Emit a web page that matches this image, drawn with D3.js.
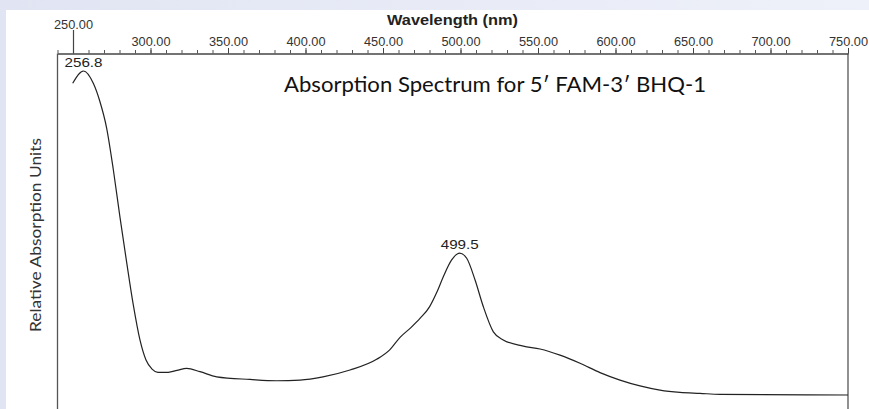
<!DOCTYPE html>
<html>
<head>
<meta charset="utf-8">
<script src="https://cdn.jsdelivr.net/npm/d3@7/dist/d3.min.js"></script>
<style>
  html, body { margin: 0; padding: 0; background: #fff; }
  svg { display: block; }
</style>
</head>
<body>
<svg id="chart" width="869" height="409"></svg>
<script>
// ---- data ----
const wavelength = [249.8, 256.8, 263.1, 267.4, 271.7, 276.0, 280.3, 284.6, 288.9, 293.2, 297.1, 301.0, 304.8, 311.5, 317.1, 323.4, 331.9, 342.7, 364.2, 381.4, 396.5, 411.3, 428.7, 445.9, 454.5, 461.0, 468.0, 474.0, 480.0, 485.0, 488.9, 494.3, 499.5, 504.0, 509.4, 514.7, 521.2, 527.6, 540.5, 551.3, 564.2, 577.1, 590.0, 602.9, 615.8, 628.7, 641.6, 654.5, 667.4, 750.0];
const absorbance = [0.962, 1.000, 0.962, 0.905, 0.824, 0.696, 0.549, 0.410, 0.278, 0.170, 0.108, 0.080, 0.070, 0.070, 0.076, 0.082, 0.072, 0.056, 0.048, 0.044, 0.046, 0.056, 0.077, 0.110, 0.140, 0.178, 0.208, 0.237, 0.272, 0.320, 0.365, 0.417, 0.438, 0.422, 0.355, 0.273, 0.195, 0.170, 0.151, 0.142, 0.123, 0.098, 0.069, 0.046, 0.028, 0.015, 0.008, 0.005, 0.002, 0.000];
const majorTicks = [300, 350, 400, 450, 500, 550, 600, 650, 700, 750];
const firstTick = [250];
const minorTicks = d3.range(240, 751, 10);
const peakLabels = [256.8, 499.5];
const peakValues = [1.000, 0.438];

const titleText = "Absorption Spectrum for 5\u2032 FAM-3\u2032 BHQ-1";
const xTitle = "Wavelength (nm)";
const yTitle = "Relative Absorption Units";

// ---- layout ----
const svg = d3.select("#chart");
const defs = svg.append("defs");
const grad = defs.append("linearGradient").attr("id", "bg").attr("x1", 0).attr("x2", 1).attr("y1", 0).attr("y2", 0);
grad.append("stop").attr("offset", "0%").attr("stop-color", "#e1e5f3");
grad.append("stop").attr("offset", "100%").attr("stop-color", "#eef1f9");
svg.append("rect").attr("width", 869).attr("height", 409).attr("fill", "url(#bg)");
svg.append("rect").attr("x", 6).attr("y", 10).attr("width", 863).attr("height", 399).attr("fill", "#ffffff");

const axisY = 53.5;
const x = d3.scaleLinear().domain([240, 750]).range([57.5, 848]);
const y = d3.scaleLinear().domain([0, 1]).range([395, 71]);

// frame sides
svg.append("line").attr("x1", x(240)).attr("x2", x(240)).attr("y1", axisY).attr("y2", 409)
  .attr("stroke", "#555").attr("stroke-width", 1.3);
svg.append("line").attr("x1", x(750)).attr("x2", x(750)).attr("y1", axisY).attr("y2", 409)
  .attr("stroke", "#555").attr("stroke-width", 1.3);

// minor ticks
const gMinor = svg.append("g").attr("transform", `translate(0,${axisY})`)
  .call(d3.axisTop(x).tickValues(minorTicks).tickSize(3.5).tickSizeOuter(0).tickFormat(""));
gMinor.select(".domain").attr("stroke", "#444").attr("stroke-width", 1.3);
gMinor.selectAll(".tick line").attr("stroke", "#555");

const fmt = d3.format(".2f");
// major ticks
const gMajor = svg.append("g").attr("transform", `translate(0,${axisY})`)
  .call(d3.axisTop(x).tickValues(majorTicks).tickSize(5.5).tickPadding(1.8).tickFormat(fmt));
gMajor.select(".domain").remove();
gMajor.selectAll(".tick line").attr("stroke", "#444");
gMajor.selectAll(".tick text")
  .attr("font-family", "Liberation Sans, Arial, sans-serif").attr("font-size", 12)
  .attr("fill", "#333").attr("textLength", 39).attr("lengthAdjust", "spacingAndGlyphs");

// first (long) tick
const gFirst = svg.append("g").attr("transform", `translate(0,${axisY})`)
  .call(d3.axisTop(x).tickValues(firstTick).tickSize(23.5).tickPadding(1.5).tickFormat(fmt));
gFirst.select(".domain").remove();
gFirst.selectAll(".tick line").attr("stroke", "#444").attr("stroke-width", 1.2);
gFirst.selectAll(".tick text")
  .attr("font-family", "Liberation Sans, Arial, sans-serif").attr("font-size", 12)
  .attr("fill", "#333").attr("textLength", 39).attr("lengthAdjust", "spacingAndGlyphs");

// axis title
svg.append("text").attr("x", 452.5).attr("y", 25)
  .attr("text-anchor", "middle")
  .attr("font-family", "Liberation Sans, Arial, sans-serif").attr("font-weight", "bold")
  .attr("font-size", 14).attr("fill", "#222")
  .attr("textLength", 131).attr("lengthAdjust", "spacingAndGlyphs")
  .text(xTitle);

// y title
svg.append("text")
  .attr("transform", `translate(40.5,235) rotate(-90)`)
  .attr("text-anchor", "middle")
  .attr("font-family", "Lato, 'Noto Sans', sans-serif").attr("font-size", 15)
  .attr("fill", "#333")
  .attr("textLength", 194).attr("lengthAdjust", "spacingAndGlyphs")
  .text(yTitle);

// chart title
svg.append("text").attr("x", 495).attr("y", 92)
  .attr("text-anchor", "middle")
  .attr("font-family", "Lato, 'Noto Sans', sans-serif").attr("font-size", 21)
  .attr("fill", "#111")
  .attr("textLength", 422).attr("lengthAdjust", "spacingAndGlyphs")
  .text(titleText);

// curve
const pts = wavelength.map((w, i) => [w, absorbance[i]]);
const line = d3.line().x(d => x(d[0])).y(d => y(d[1])).curve(d3.curveMonotoneX);
svg.append("path").datum(pts).attr("d", line)
  .attr("fill", "none").attr("stroke", "#222").attr("stroke-width", 1.2);

// peak labels
svg.selectAll(".peak").data(peakLabels).enter().append("text")
  .attr("class", "peak")
  .attr("x", d => x(d))
  .attr("y", (d, i) => y(peakValues[i]) - 4.5)
  .attr("text-anchor", "middle")
  .attr("font-family", "Liberation Sans, Arial, sans-serif").attr("font-size", 13.5)
  .attr("fill", "#222")
  .attr("textLength", 38).attr("lengthAdjust", "spacingAndGlyphs")
  .text(d => d.toFixed(1));
</script>
</body>
</html>
